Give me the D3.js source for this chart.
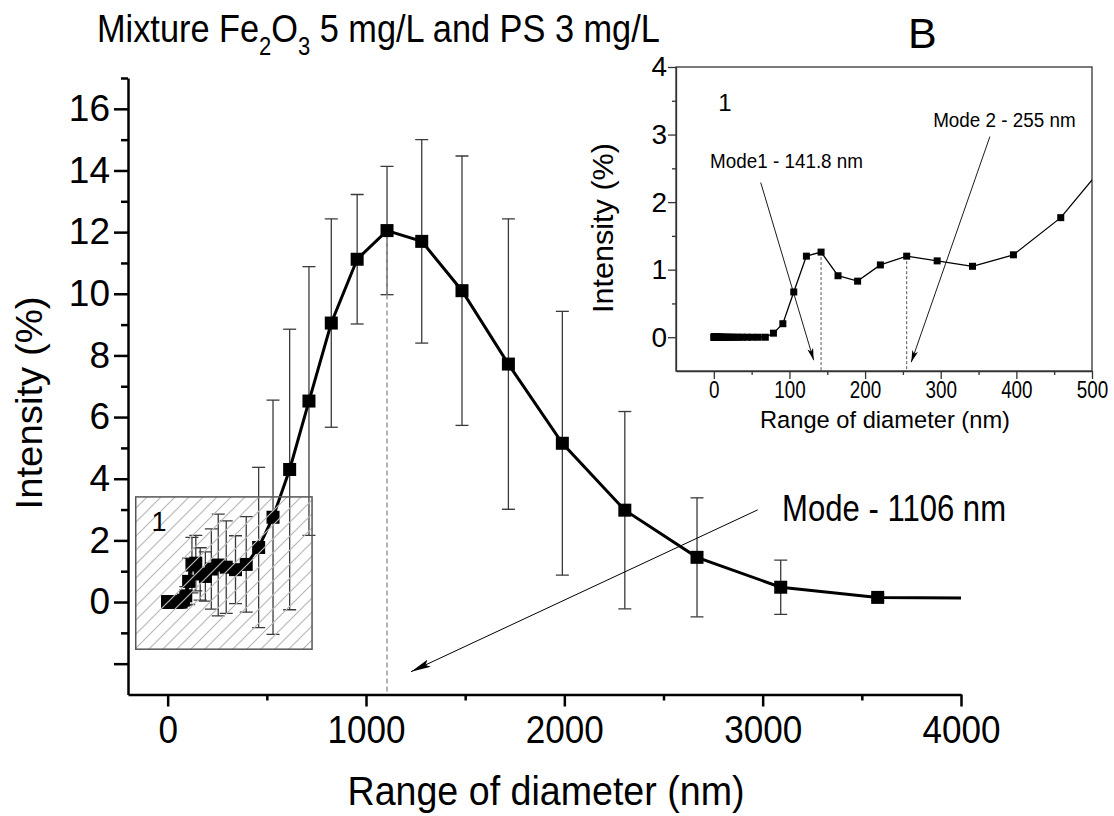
<!DOCTYPE html>
<html>
<head>
<meta charset="utf-8">
<script src="https://cdn.jsdelivr.net/npm/d3@7"></script>
<style>
  body { margin: 0; background: #fff; }
  svg { display: block; font-family: "Liberation Sans", Arial, sans-serif; }
</style>
</head>
<body>
<div class="chart"></div>
<script>
/* size bins (nm) and mean intensity (%) with standard deviation */
const diameters = [0.4, 0.4632, 0.5365, 0.6213, 0.7195, 0.8332, 0.9649, 1.117, 1.294, 1.499,
  1.736, 2.010, 2.328, 2.696, 3.122, 3.615, 4.187, 4.849, 5.615, 6.503,
  7.531, 8.721, 10.10, 11.70, 13.54, 15.69, 18.17, 21.04, 24.36, 28.21,
  32.67, 37.84, 43.82, 50.75, 58.77, 68.06, 78.82, 91.28, 105.7, 122.4,
  141.8, 164.2, 190.1, 220.2, 255.0, 295.3, 342.0, 396.1, 458.7, 531.2,
  615.1, 712.4, 825.0, 955.4, 1106, 1281, 1484, 1718, 1990, 2305,
  2669, 3091, 3580, 4145];
const intensity = [0, 0, 0, 0, 0, 0, 0, 0, 0, 0,
  0, 0, 0, 0, 0, 0, 0, 0, 0, 0,
  0, 0, 0, 0, 0, 0, 0, 0, 0, 0,
  0, 0, 0, 0, 0, 0, 0.06, 0.2, 0.67, 1.2,
  1.26, 0.91, 0.83, 1.07, 1.2, 1.13, 1.05, 1.22, 1.77, 2.75,
  4.3, 6.52, 9.05, 11.12, 12.05, 11.7, 10.1, 7.72, 5.15, 2.98,
  1.45, 0.48, 0.15, 0.12];
const stdDev = [0, 0, 0, 0, 0, 0, 0, 0, 0, 0,
  0, 0, 0, 0, 0, 0, 0, 0, 0, 0,
  0, 0, 0, 0, 0, 0, 0, 0, 0, 0,
  0, 0, 0, 0, 0, 0, 0.1, 0.3, 0.75, 0.9,
  0.9, 0.85, 0.8, 1.3, 1.65, 1.5, 1.1, 1.55, 2.6, 3.8,
  4.55, 4.36, 3.38, 2.1, 2.08, 3.3, 4.37, 4.71, 4.28, 3.2,
  1.93, 0.88, 0.1, 0.1];

/* axis ticks */
const xTicks = [0, 1000, 2000, 3000, 4000];
const xMinor = [500, 1500, 2500, 3500];
const yTicks = [-2, 0, 2, 4, 6, 8, 10, 12, 14, 16];
const yMinor = [-1, 1, 3, 5, 7, 9, 11, 13, 15, 17];
const insetXTicks = [0, 100, 200, 300, 400, 500];
const insetXMinor = [50, 150, 250, 350, 450];
const insetYTicks = [0, 1, 2, 3, 4];
const insetYMinor = [0.5, 1.5, 2.5, 3.5];

/* modes marked on the chart */
const mainMode = 1106;
const insetModes = [141.8, 255.0];

const data = diameters.map((d, i) => ({d: d, v: intensity[i], e: stdDev[i]}));

const W = 1114, H = 816;
const svg = d3.select(".chart").append("svg")
  .attr("width", W).attr("height", H);

const defs = svg.append("defs");

/* hatch for the zoom box */
const hatch = defs.append("pattern")
  .attr("id", "hatch")
  .attr("patternUnits", "userSpaceOnUse")
  .attr("width", 14).attr("height", 14);
hatch.append("path")
  .attr("d", "M-2,2 L2,-2 M0,14 L14,0 M12,16 L16,12")
  .attr("stroke", "#b8b8b8").attr("stroke-width", 1.2);

/* arrow heads */
defs.append("marker").attr("id", "arrBig")
  .attr("viewBox", "0 0 20 8").attr("refX", 20).attr("refY", 4)
  .attr("markerWidth", 20).attr("markerHeight", 8)
  .attr("markerUnits", "userSpaceOnUse").attr("orient", "auto")
  .append("path").attr("d", "M0,0 L20,4 L0,8 L4,4 Z").attr("fill", "#000");
defs.append("marker").attr("id", "arrSmall")
  .attr("viewBox", "0 0 12 6").attr("refX", 12).attr("refY", 3)
  .attr("markerWidth", 12).attr("markerHeight", 6)
  .attr("markerUnits", "userSpaceOnUse").attr("orient", "auto")
  .append("path").attr("d", "M0,0 L12,3 L0,6 L3,3 Z").attr("fill", "#000");

/* ---------- main chart ---------- */
const x = d3.scaleLinear().domain([-200, 4000]).range([128, 961]);
const y = d3.scaleLinear().domain([-3, 17]).range([694.5, 78]);

defs.append("clipPath").attr("id", "mainClip")
  .append("rect")
  .attr("x", x(-200)).attr("y", y(17))
  .attr("width", x(4000) - x(-200)).attr("height", y(-3) - y(17));

const main = svg.append("g");
const plot = main.append("g").attr("clip-path", "url(#mainClip)");

/* error bars */
const eb = plot.append("g").attr("stroke", "#3a3a3a").attr("stroke-width", 1.3);
const withErr = data.filter(p => p.e > 0);
eb.selectAll(".v").data(withErr).join("line")
  .attr("x1", p => x(p.d)).attr("x2", p => x(p.d))
  .attr("y1", p => y(p.v + p.e)).attr("y2", p => y(p.v - p.e));
eb.selectAll(".t").data(withErr).join("line")
  .attr("x1", p => x(p.d) - 6.5).attr("x2", p => x(p.d) + 6.5)
  .attr("y1", p => y(p.v + p.e)).attr("y2", p => y(p.v + p.e));
eb.selectAll(".b").data(withErr).join("line")
  .attr("x1", p => x(p.d) - 6.5).attr("x2", p => x(p.d) + 6.5)
  .attr("y1", p => y(p.v - p.e)).attr("y2", p => y(p.v - p.e));

/* dashed line at the mode */
const modePt = data.find(p => p.d === mainMode);
plot.append("line")
  .attr("x1", x(mainMode)).attr("x2", x(mainMode))
  .attr("y1", y(modePt.v)).attr("y2", y(-3))
  .attr("stroke", "#999").attr("stroke-width", 1.5)
  .attr("stroke-dasharray", "5,3");

const line = d3.line().x(p => x(p.d)).y(p => y(p.v));
plot.append("path").datum(data)
  .attr("d", line)
  .attr("fill", "none").attr("stroke", "#000").attr("stroke-width", 3);

plot.selectAll(".m").data(data).join("rect")
  .attr("x", p => x(p.d) - 6.5).attr("y", p => y(p.v) - 6.5)
  .attr("width", 13).attr("height", 13)
  .attr("fill", "#000");

/* hatched zoom box drawn over the points */
main.append("rect")
  .attr("x", x(-161)).attr("y", y(3.41))
  .attr("width", x(728) - x(-161)).attr("height", y(-1.53) - y(3.41))
  .attr("fill", "url(#hatch)")
  .attr("stroke", "#555").attr("stroke-width", 1.5);
main.append("text")
  .attr("x", x(-81)).attr("y", y(2.32))
  .attr("font-size", 27).text("1");

/* axes */
const xAxis = main.append("g").attr("transform", `translate(0,${y(-3)})`)
  .call(d3.axisBottom(x).tickValues(xTicks).tickSize(12).tickSizeOuter(0)
    .tickFormat(d3.format("d")));
xAxis.append("g")
  .call(d3.axisBottom(x).tickValues(xMinor).tickSize(6).tickFormat(""))
  .call(g => g.select(".domain").remove());
xAxis.selectAll("path, line").attr("stroke", "#000").attr("stroke-width", 2.5);
xAxis.selectAll(".tick text")
  .attr("y", 49).attr("dy", 0)
  .attr("font-size", 39).attr("fill", "#000")
  .attr("font-family", "Liberation Sans, Arial, sans-serif")
  .attr("transform", "scale(0.9,1)");

const yAxis = main.append("g").attr("transform", `translate(${x(-200)},0)`)
  .call(d3.axisLeft(y).tickValues(yTicks).tickSize(14).tickSizeOuter(0)
    .tickFormat(d => d < 0 ? "" : d));
yAxis.append("g")
  .call(d3.axisLeft(y).tickValues(yMinor).tickSize(7).tickFormat(""))
  .call(g => g.select(".domain").remove());
yAxis.selectAll("path, line").attr("stroke", "#000").attr("stroke-width", 2.5);
yAxis.selectAll(".tick text")
  .attr("x", -18)
  .attr("font-size", 37).attr("fill", "#000")
  .attr("font-family", "Liberation Sans, Arial, sans-serif");

main.append("text")
  .attr("x", 546).attr("y", 805)
  .attr("text-anchor", "middle").attr("font-size", 40)
  .attr("textLength", 397).attr("lengthAdjust", "spacingAndGlyphs")
  .text("Range of diameter (nm)");
main.append("text")
  .attr("transform", "translate(42,403) rotate(-90)")
  .attr("text-anchor", "middle").attr("font-size", 36)
  .attr("textLength", 213).attr("lengthAdjust", "spacingAndGlyphs")
  .text("Intensity (%)");

/* mode annotation */
main.append("line")
  .attr("x1", x(2975)).attr("y1", y(2.99))
  .attr("x2", x(1227)).attr("y2", y(-2.26))
  .attr("stroke", "#000").attr("stroke-width", 1)
  .attr("marker-end", "url(#arrBig)");
main.append("text")
  .attr("transform", `translate(${x(3098)},${y(2.64)}) scale(0.84,1)`)
  .attr("font-size", 37).text("Mode - 1106 nm");

/* title */
const title = svg.append("text")
  .attr("transform", "translate(97,42) scale(0.88,1)")
  .attr("font-size", 39);
title.append("tspan").text("Mixture Fe");
title.append("tspan").attr("font-size", 25).attr("dy", 13).text("2");
title.append("tspan").attr("dy", -13).text("O");
title.append("tspan").attr("font-size", 25).attr("dy", 13).text("3");
title.append("tspan").attr("dy", -13).text(" 5 mg/L and PS 3 mg/L");

svg.append("text").attr("x", 908).attr("y", 48)
  .attr("font-size", 43).text("B");

/* ---------- inset ---------- */
const ix = d3.scaleLinear().domain([-50, 500]).range([676, 1092]);
const iy = d3.scaleLinear().domain([-0.5, 4]).range([371, 67]);

defs.append("clipPath").attr("id", "insetClip")
  .append("rect")
  .attr("x", ix(-50)).attr("y", iy(4))
  .attr("width", ix(500) - ix(-50)).attr("height", iy(-0.5) - iy(4));

const inset = svg.append("g");
inset.append("rect")
  .attr("x", ix(-50)).attr("y", iy(4))
  .attr("width", ix(500) - ix(-50)).attr("height", iy(-0.5) - iy(4))
  .attr("fill", "#fff").attr("stroke", "#333").attr("stroke-width", 1.3);

const iplot = inset.append("g").attr("clip-path", "url(#insetClip)");
insetModes.forEach(m => {
  const p = data.find(q => q.d === m);
  iplot.append("line")
    .attr("x1", ix(m)).attr("x2", ix(m))
    .attr("y1", iy(p.v)).attr("y2", iy(-0.5))
    .attr("stroke", "#555").attr("stroke-width", 1)
    .attr("stroke-dasharray", "3,2");
});
const iline = d3.line().x(p => ix(p.d)).y(p => iy(p.v));
iplot.append("path").datum(data)
  .attr("d", iline)
  .attr("fill", "none").attr("stroke", "#000").attr("stroke-width", 1.3);
iplot.selectAll(".m").data(data).join("rect")
  .attr("x", p => ix(p.d) - 3.5).attr("y", p => iy(p.v) - 3.5)
  .attr("width", 7).attr("height", 7).attr("fill", "#000");

const ixAxis = inset.append("g").attr("transform", `translate(0,${iy(-0.5)})`)
  .call(d3.axisBottom(ix).tickValues(insetXTicks).tickSize(8).tickSizeOuter(0)
    .tickFormat(d3.format("d")));
ixAxis.append("g")
  .call(d3.axisBottom(ix).tickValues(insetXMinor).tickSize(4).tickFormat(""))
  .call(g => g.select(".domain").remove());
ixAxis.selectAll("path, line").attr("stroke", "#333").attr("stroke-width", 1.3);
ixAxis.selectAll(".tick text")
  .attr("y", 27).attr("dy", 0)
  .attr("font-size", 23).attr("fill", "#000")
  .attr("font-family", "Liberation Sans, Arial, sans-serif")
  .attr("transform", "scale(0.82,1)");

const iyAxis = inset.append("g").attr("transform", `translate(${ix(-50)},0)`)
  .call(d3.axisLeft(iy).tickValues(insetYTicks).tickSize(8).tickSizeOuter(0)
    .tickFormat(d3.format("d")));
iyAxis.append("g")
  .call(d3.axisLeft(iy).tickValues(insetYMinor).tickSize(4).tickFormat(""))
  .call(g => g.select(".domain").remove());
iyAxis.selectAll("path, line").attr("stroke", "#333").attr("stroke-width", 1.3);
iyAxis.selectAll(".tick text")
  .attr("x", -9)
  .attr("font-size", 28).attr("fill", "#000")
  .attr("font-family", "Liberation Sans, Arial, sans-serif");

inset.append("text")
  .attr("x", 885).attr("y", 428)
  .attr("text-anchor", "middle").attr("font-size", 24.5)
  .attr("textLength", 250).attr("lengthAdjust", "spacingAndGlyphs")
  .text("Range of diameter (nm)");
inset.append("text")
  .attr("transform", "translate(613,228) rotate(-90)")
  .attr("text-anchor", "middle").attr("font-size", 29)
  .attr("textLength", 170).attr("lengthAdjust", "spacingAndGlyphs")
  .text("Intensity (%)");
inset.append("text")
  .attr("x", ix(6)).attr("y", iy(3.35))
  .attr("font-size", 24).text("1");

/* mode arrows in the inset */
inset.append("text")
  .attr("transform", `translate(${ix(-5)},${iy(2.5)}) scale(0.92,1)`)
  .attr("font-size", 20.5).text("Mode1 - 141.8 nm");
inset.append("line")
  .attr("x1", ix(62)).attr("y1", iy(2.29))
  .attr("x2", ix(132)).attr("y2", iy(-0.34))
  .attr("stroke", "#000").attr("stroke-width", 0.9)
  .attr("marker-end", "url(#arrSmall)");
inset.append("text")
  .attr("transform", `translate(${ix(290)},${iy(3.11)}) scale(0.92,1)`)
  .attr("font-size", 20.5).text("Mode 2 - 255 nm");
inset.append("line")
  .attr("x1", ix(365)).attr("y1", iy(2.97))
  .attr("x2", ix(261)).attr("y2", iy(-0.37))
  .attr("stroke", "#000").attr("stroke-width", 0.9)
  .attr("marker-end", "url(#arrSmall)");
</script>
</body>
</html>
